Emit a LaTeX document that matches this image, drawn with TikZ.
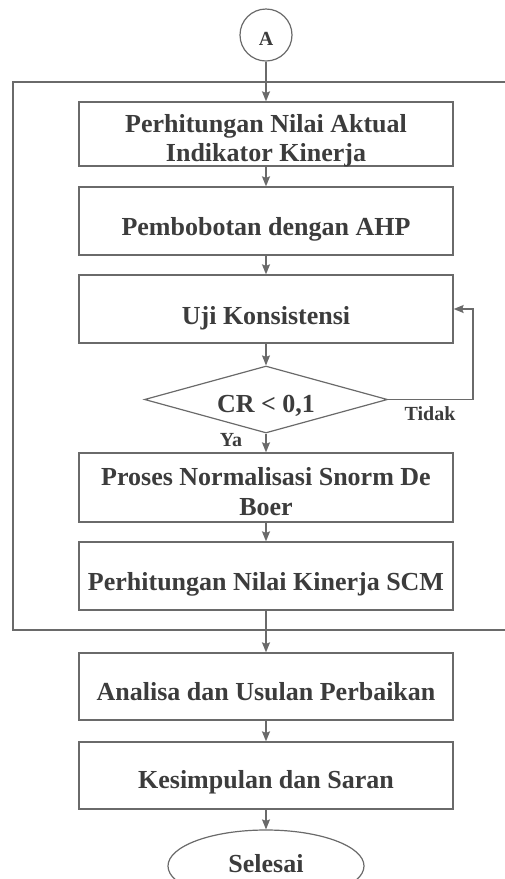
\documentclass[tikz,border=0pt]{standalone}
\usepackage{fontspec}
\setmainfont{Liberation Serif}
\usetikzlibrary{shapes.geometric,arrows.meta}
\definecolor{ink}{HTML}{3C3C3C}
\definecolor{edge}{HTML}{6A6A6A}
% set a label with its baseline a given distance below the node centre
\newcommand\sitlow[2]{\raisebox{-#1}[0pt][0pt]{#2}}
% two centred lines, the first one sitting just above the node centre
\newcommand\twolines[2]{\raisebox{2pt}[0pt][0pt]{\begin{tabular}[t]{@{}c@{}}#1\\#2\end{tabular}}}
\begin{document}
\begin{tikzpicture}[x=1pt,y=-1pt,
  every node/.style={text=ink,font=\fontsize{26}{29.5}\selectfont\bfseries},
  stepbox/.style={draw=edge,line width=1.3pt,rectangle,minimum width=374pt,
    minimum height=67pt,inner sep=0pt},
  flow/.style={draw=edge,line width=1.3pt,-{Stealth[length=10pt,width=8pt,inset=1.5pt]}},
  tag/.style={font=\fontsize{20}{22}\selectfont\bfseries}]
\useasboundingbox (0,0) rectangle (504,879);

% outer frame of the repeated block (right side runs off the page)
\draw[edge,line width=1.4pt] (13,82) rectangle (508,630);

\node[circle,draw=edge,line width=1.2pt,minimum size=52pt,inner sep=0pt,
      font=\fontsize{20}{22}\selectfont\bfseries] (A) at (266,35) {\sitlow{10pt}{A}};

\node[stepbox,minimum height=64pt] (b1) at (266,134)
  {\twolines{Perhitungan Nilai Aktual}{Indikator Kinerja}};
\node[stepbox,minimum height=68pt] (b2) at (266,221) {\sitlow{14pt}{Pembobotan dengan AHP}};
\node[stepbox,minimum height=68pt] (b3) at (266,309) {\sitlow{15pt}{Uji Konsistensi}};
\node[diamond,draw=edge,line width=1.2pt,minimum width=243pt,minimum height=67pt,
      inner sep=0pt,aspect=3.6] (d) at (266,399.5) {\sitlow{13pt}{CR < 0,1}};
\node[stepbox,minimum height=69pt] (b4) at (266,487.5)
  {\twolines{Proses Normalisasi Snorm De}{Boer}};
\node[stepbox,minimum height=68pt] (b5) at (266,576) {\sitlow{14pt}{Perhitungan Nilai Kinerja SCM}};
\node[stepbox,minimum height=67pt] (b6) at (266,686.5) {\sitlow{13.5pt}{Analisa dan Usulan Perbaikan}};
\node[stepbox,minimum height=67pt] (b7) at (266,775.5) {\sitlow{12.5pt}{Kesimpulan dan Saran}};
\node[ellipse,draw=edge,line width=1.2pt,minimum width=196pt,minimum height=72pt,
      inner sep=0pt] (end) at (266,866) {\sitlow{6pt}{Selesai}};

\draw[flow] (A) -- (b1);
\draw[flow] (b1) -- (b2);
\draw[flow] (b2) -- (b3);
\draw[flow] (b3) -- (d);
\draw[flow] (d) -- (b4);
\draw[flow] (b4) -- (b5);
\draw[flow] (b5) -- (b6);
\draw[flow] (b6) -- (b7);
\draw[flow] (b7) -- (end);

% loop back when the consistency ratio fails
\coordinate (turn) at (473,399.5);
\draw[flow] (d.east) -- (turn) |- (b3.east);

\node[tag] (ya) at (231,440) {Ya};
\node[tag] (tidak) at (430,414) {Tidak};
\end{tikzpicture}
\end{document}
